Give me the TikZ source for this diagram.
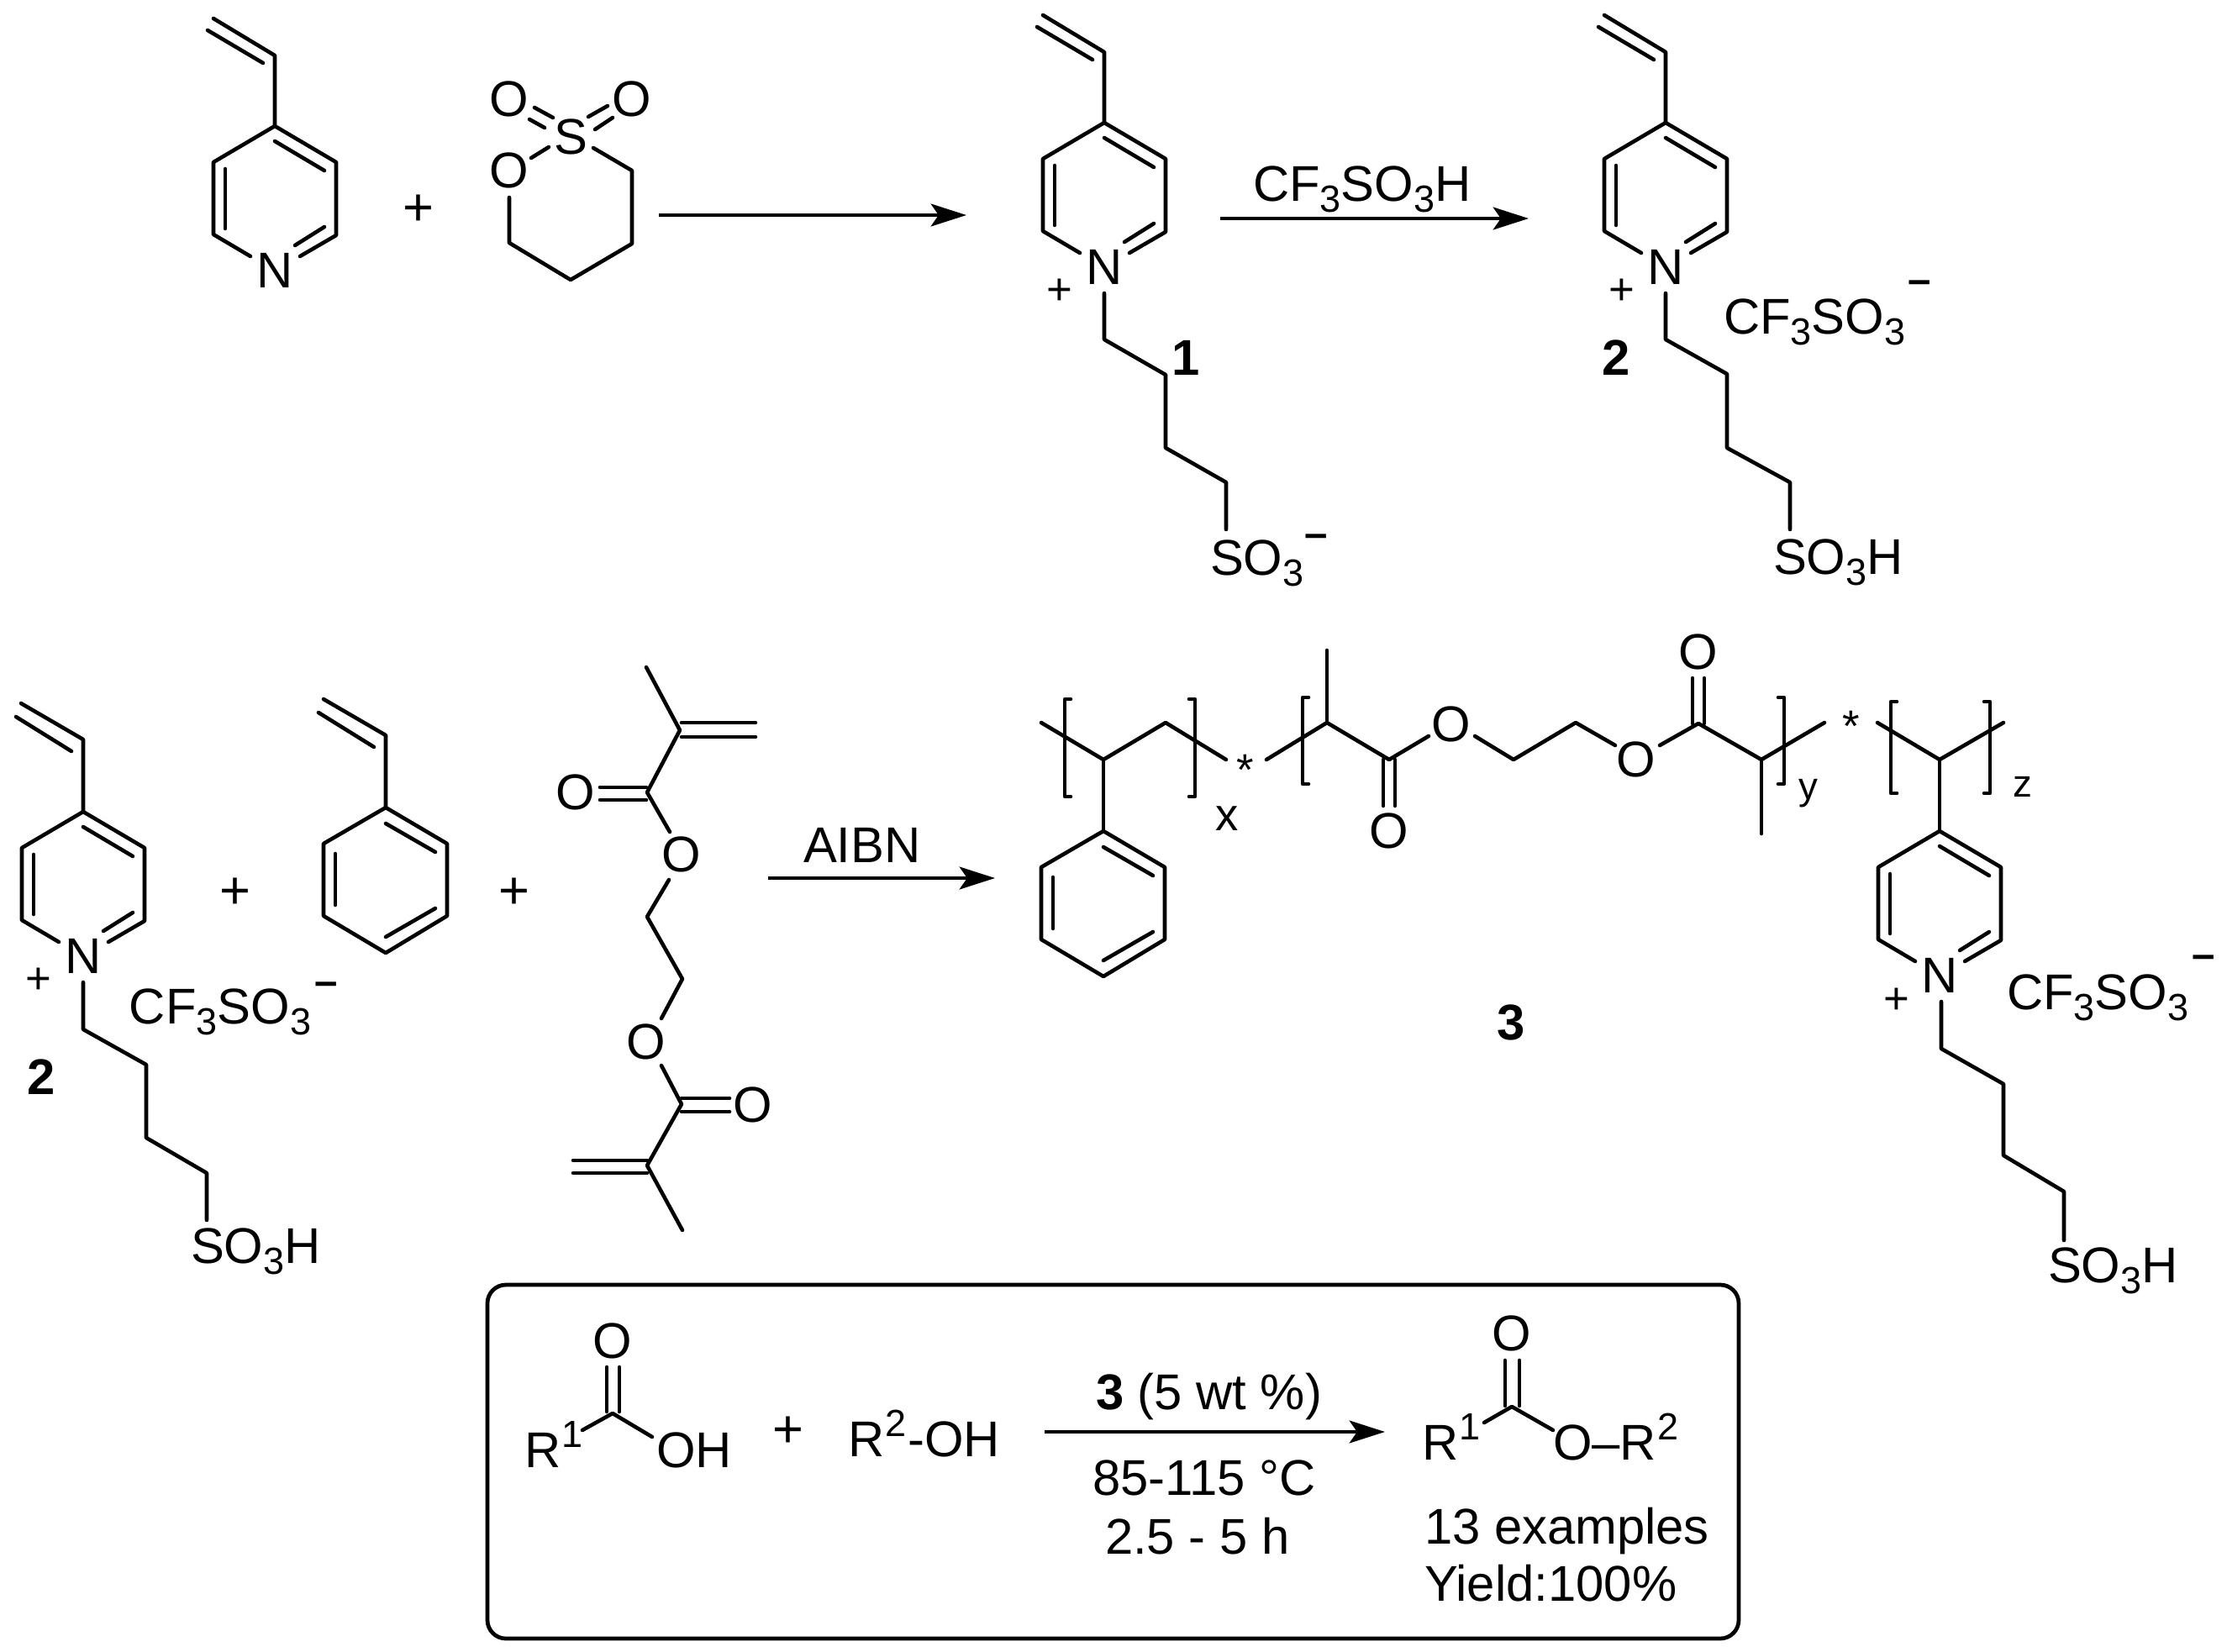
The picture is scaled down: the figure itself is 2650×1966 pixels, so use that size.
\documentclass[tikz,border=0pt]{standalone}
\usepackage{fontspec}
\setmainfont{Liberation Sans}
\usetikzlibrary{arrows.meta}
\newcommand\subn[1]{\raisebox{-3.7pt}{\fontsize{12.8}{12}\selectfont #1}}
\newcommand\supn[1]{\kern0.4pt\raisebox{6.8pt}{\fontsize{12.8}{12}\selectfont #1}}
\tikzset{
  bond/.style={line width=1.3pt,line cap=round,line join=round},
  rxnarrow/.style={line width=1.4pt,-{Stealth[length=12pt,width=7.6pt,inset=2.6pt]}},
  lbl/.style={inner sep=0pt,outer sep=0pt,anchor=base west,xshift=-0.03cm,font=\fontsize{17}{20}\selectfont},
  atom/.style={inner sep=0pt,outer sep=0pt,anchor=center,font=\fontsize{17}{20}\selectfont},
  numlbl/.style={inner sep=0pt,outer sep=0pt,anchor=base,font=\fontsize{17}{20}\selectfont\bfseries},
  chg/.style={inner sep=0pt,outer sep=0pt,anchor=center,yshift=-0.025cm,font=\fontsize{15}{18}\selectfont},
  neg/.style={inner sep=0pt,outer sep=0pt,anchor=center,yshift=-0.08cm,font=\fontsize{14}{18}\selectfont\bfseries},
  plus/.style={inner sep=0pt,outer sep=0pt,anchor=center,yshift=-0.025cm,font=\fontsize{18}{20}\selectfont},
  polyidx/.style={inner sep=0pt,outer sep=0pt,anchor=base,font=\fontsize{15.5}{20}\selectfont},
  polyidxs/.style={inner sep=0pt,outer sep=0pt,anchor=base,font=\fontsize{13}{20}\selectfont},
}
\newcommand\vinyl[2]{\begin{scope}[shift={(#1,#2)}]
  \draw[bond] (0,0)--(0,-84)--(-73,-128);
  \draw[bond] (-80,-114)--(-14,-75);
\end{scope}}
\newcommand\vinylB[2]{\begin{scope}[shift={(#1,#2)}]
  \draw[bond] (0,0)--(0,-86)--(-74,-129);
  \draw[bond] (-80,-113)--(-14,-72);
\end{scope}}
\newcommand\pyr[3]{\begin{scope}[shift={(#1,#2)}]
  \draw[bond] (-29,155)--(-73,129)--(-73,43)--(0,0)--(73,43)--(73,130)--(30,155);
  \draw[bond] (0,18)--(59,53);
  \draw[bond] (-59,51)--(-59,122);
  \draw[bond] (59,120)--(24,142);
  \node[atom] (#3) at (0,172) {N};
\end{scope}}
\newcommand\benz[2]{\begin{scope}[shift={(#1,#2)}]
  \draw[bond] (0,0)--(73,43)--(73,129)--(0,173)--(-74,129)--(-74,43)--cycle;
  \draw[bond] (0,19)--(59,53);
  \draw[bond] (-60,55)--(-60,116);
  \draw[bond] (59,120)--(0,154);
\end{scope}}
\begin{document}
\begin{tikzpicture}[x=0.01cm,y=-0.01cm]
\path[use as bounding box,fill=white] (0,0) rectangle (2650,1966);

% ---- top row: 4-vinylpyridine
\vinyl{327}{150}
\pyr{327}{150}{nA}
\node[plus] (pA) at (498,248) {+};
% sultone
\node[atom] (sS) at (679,163) {S};
\node[atom] (sO1) at (606,118) {O};
\node[atom] (sO2) at (752,118) {O};
\node[atom] (sO3) at (606,203) {O};
\draw[bond] (636,128)--(658,140) (630,142)--(648,152);
\draw[bond] (723,126)--(700,139) (729,140)--(708,154);
\draw[bond] (653,175)--(632,188);
\draw[bond] (706,176)--(752,203)--(752,290)--(679,333)--(606,289)--(606,235);
\coordinate (a1s) at (784,256); \coordinate (a1e) at (1150,256);
\draw[rxnarrow] (a1s)--(a1e);

% compound 1
\vinyl{1314}{146}
\pyr{1314}{146}{n1}
\node[chg] (c1) at (1261,345) {+};
\draw[bond] (1314,349)--(1314,404)--(1387,446)--(1387,533)--(1459,574)--(1459,630);
\node[lbl] (so1) at (1443,684) {SO\subn{3}};
\node[neg] (m1) at (1566,636) {–};
\node[numlbl] (l1) at (1411,446) {1};

\coordinate (a2s) at (1452,260); \coordinate (a2e) at (1819,260);
\draw[rxnarrow] (a2s)--(a2e);
\node[lbl] (t2) at (1494,239) {CF\subn{3}SO\subn{3}H};

% compound 2
\vinyl{1982}{146}
\pyr{1982}{146}{n2}
\node[chg] (c2) at (1930,345) {+};
\draw[bond] (1982,349)--(1982,404)--(2055,445)--(2055,533)--(2130,574)--(2130,630);
\node[lbl] (so2) at (2113,683) {SO\subn{3}H};
\node[lbl] (tf2) at (2054,397) {CF\subn{3}SO\subn{3}};
\node[neg] (m2) at (2284,334) {–};
\node[numlbl] (l2) at (1923,446) {2};

% ---- second row: compound 2 again
\vinylB{99}{966}
\pyr{99}{966}{n2b}
\node[chg] (c2b) at (46,1165) {+};
\draw[bond] (99,1169)--(99,1225)--(174,1267)--(174,1354)--(246,1396)--(246,1452);
\node[lbl] (so2b) at (230,1503) {SO\subn{3}H};
\node[lbl] (tf2b) at (157,1218) {CF\subn{3}SO\subn{3}};
\node[neg] (m2b) at (388,1169) {–};
\node[numlbl] (l2b) at (49,1302) {2};
\node[plus] (pB) at (280,1061) {+};

% styrene
\vinylB{459}{961}
\benz{459}{961}
\node[plus] (pC) at (612,1061) {+};

% EGDMA
\node[atom] (dO1) at (685,943) {O};
\node[atom] (dO2) at (811,1017) {O};
\node[atom] (dO3) at (769,1240) {O};
\node[atom] (dO4) at (896,1315) {O};
\draw[bond] (769,794)--(809,869)--(770,943)--(797,990);
\draw[bond] (811,860)--(899,860) (811,877)--(899,877);
\draw[bond] (714,937)--(769,937) (714,952)--(769,952);
\draw[bond] (796,1047)--(770,1091)--(812,1165)--(787,1212);
\draw[bond] (787,1268)--(811,1314)--(770,1387)--(812,1464);
\draw[bond] (811,1307)--(868,1307) (811,1323)--(868,1323);
\draw[bond] (682,1381)--(770,1381) (682,1396)--(770,1396);

\coordinate (a3s) at (914,1045); \coordinate (a3e) at (1184,1045);
\draw[rxnarrow] (a3s)--(a3e);
\node[lbl,xshift=0.03cm] (t3) at (956,1026) {AIBN};

% ---- polymer 3
\draw[bond] (1239,860)--(1313,904)--(1387,860)--(1459,904);
\draw[bond] (1313,904)--(1313,989);
\benz{1313}{989}
\draw[bond] (1274,832)--(1267,832)--(1267,948)--(1274,948);
\draw[bond] (1415,832)--(1422,832)--(1422,948)--(1415,948);
\node[polyidx] (ix) at (1460,988) {x};
\node[atom,font=\fontsize{15}{18}\selectfont] (st1) at (1482,916) {*};
\draw[bond] (1507,904)--(1579,860)--(1653,904)--(1700,876);
\draw[bond] (1579,860)--(1579,774);
\draw[bond] (1646,904)--(1646,959) (1660,904)--(1660,959);
\node[atom] (pO1) at (1653,989) {O};
\node[atom] (pO2) at (1727,862) {O};
\draw[bond] (1755,876)--(1801,904)--(1875,860)--(1922,887);
\node[atom] (pO3) at (1947,904) {O};
\draw[bond] (1975,887)--(2021,861)--(2096,904)--(2171,860);
\draw[bond] (2014,861)--(2014,807) (2028,861)--(2028,807);
\node[atom] (pO4) at (2021,776) {O};
\draw[bond] (2096,904)--(2096,992);
\draw[bond] (1557,830)--(1550,830)--(1550,933)--(1557,933);
\draw[bond] (2116,830)--(2123,830)--(2123,933)--(2116,933);
\node[polyidxs] (iy) at (2152,951) {y};
\node[atom,font=\fontsize{15}{18}\selectfont] (st2) at (2203,864) {*};
\draw[bond] (2234,860)--(2308,904)--(2384,860);
\draw[bond] (2308,904)--(2308,989);
\draw[bond] (2257,835)--(2250,835)--(2250,944)--(2257,944);
\draw[bond] (2361,835)--(2368,835)--(2368,944)--(2361,944);
\node[polyidxs] (iz) at (2407,948) {z};
\pyr{2308}{989}{n3}
\node[chg] (c3) at (2257,1189) {+};
\draw[bond] (2310,1192)--(2310,1248)--(2384,1290)--(2384,1375)--(2456,1418)--(2456,1476);
\node[lbl] (so3) at (2440,1526) {SO\subn{3}H};
\node[lbl] (tf3) at (2391,1201) {CF\subn{3}SO\subn{3}};
\node[neg] (m3) at (2622,1137) {–};
\node[numlbl] (l3) at (1798,1237) {3};

% ---- box
\draw[line width=1.35pt,rounded corners=0.22cm] (580,1529) rectangle (2069,1950);
\node[lbl] (r1) at (627,1746) {R\supn{1}};
\node[atom] (bO1) at (729,1596) {O};
\draw[bond] (722,1627)--(722,1680) (737,1627)--(737,1680);
\draw[bond] (693,1702)--(729,1682)--(776,1710);
\node[lbl] (oh) at (784,1746) {OH};
\node[plus] (pD) at (938,1702) {+};
\node[lbl] (r2) at (1012,1733) {R\supn{2}\kern0.5pt-OH};
\coordinate (a4s) at (1243,1704); \coordinate (a4e) at (1648,1704);
\draw[rxnarrow] (a4s)--(a4e);
\node[lbl] (t4) at (1307,1677) {\textbf{3} (5 wt \%)};
\node[lbl] (t5) at (1303,1779) {85-115 °C};
\node[lbl] (t6) at (1318,1849) {2.5 - 5 h};
\node[lbl] (r1p) at (1695,1737) {R\supn{1}};
\node[atom] (bO2) at (1799,1587) {O};
\draw[bond] (1791,1619)--(1791,1673) (1808,1619)--(1808,1673);
\draw[bond] (1766,1693)--(1799,1674)--(1848,1702);
\node[lbl] (or2) at (1851,1737) {O–R\supn{2}};
\node[lbl] (t7) at (1698,1837) {13 examples};
\node[lbl] (t8) at (1698,1905) {Yield:100\%};
\end{tikzpicture}
\end{document}
